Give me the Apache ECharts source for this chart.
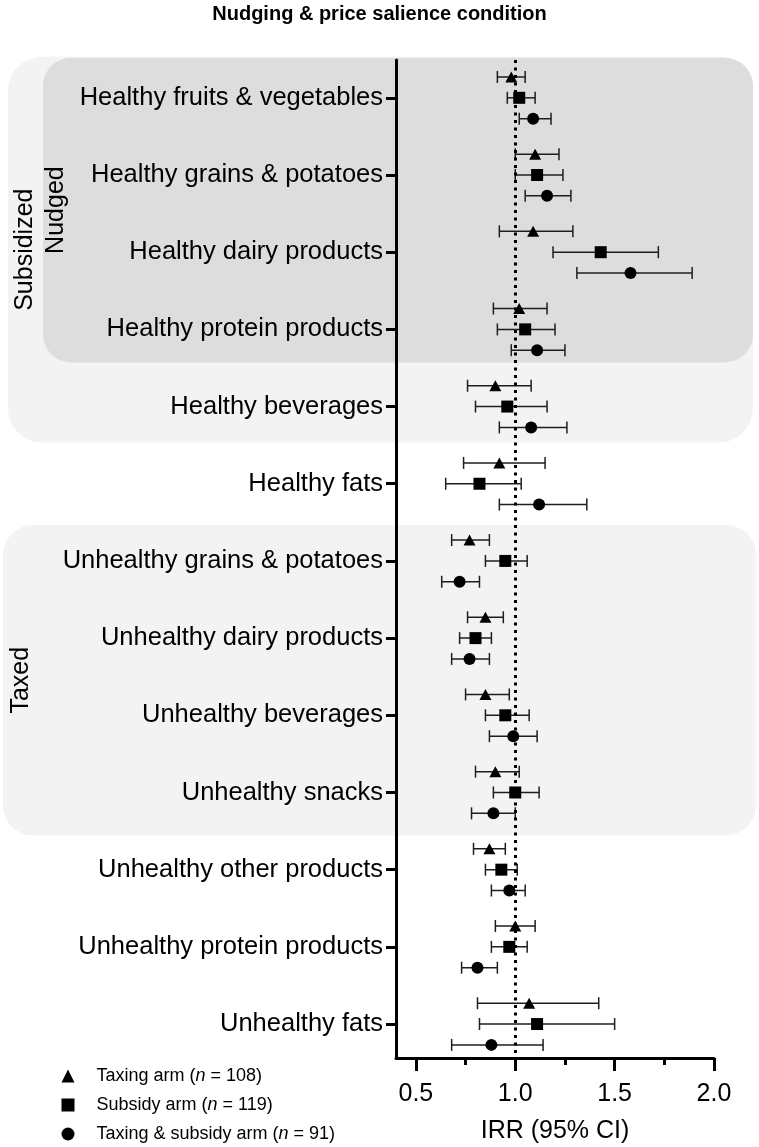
<!DOCTYPE html>
<html>
<head>
<meta charset="utf-8">
<script src="https://cdn.jsdelivr.net/npm/echarts@6/dist/echarts.min.js"></script>
<style>html,body{margin:0;padding:0;background:#fff}#c{width:759px;height:1147px}</style>
</head>
<body>
<div id="c"></div>
<script>
// ---------- data ----------
const categories = [
  'Healthy fruits & vegetables', 'Healthy grains & potatoes', 'Healthy dairy products',
  'Healthy protein products', 'Healthy beverages', 'Healthy fats',
  'Unhealthy grains & potatoes', 'Unhealthy dairy products', 'Unhealthy beverages',
  'Unhealthy snacks', 'Unhealthy other products', 'Unhealthy protein products', 'Unhealthy fats'
];
const armNames = ['Taxing arm', 'Subsidy arm', 'Taxing & subsidy arm'];
const armN = [108, 119, 91];

const taxEst = [0.98, 1.10, 1.09, 1.02, 0.90, 0.92, 0.77, 0.85, 0.85, 0.90, 0.87, 1.00, 1.07];
const taxLo  = [0.91, 1.00, 0.92, 0.89, 0.76, 0.74, 0.68, 0.76, 0.75, 0.80, 0.79, 0.90, 0.81];
const taxHi  = [1.05, 1.22, 1.29, 1.16, 1.08, 1.15, 0.87, 0.94, 0.97, 1.02, 0.95, 1.10, 1.42];

const subEst = [1.02, 1.11, 1.43, 1.05, 0.96, 0.82, 0.95, 0.80, 0.95, 1.00, 0.93, 0.97, 1.11];
const subLo  = [0.96, 1.00, 1.19, 0.91, 0.80, 0.65, 0.85, 0.72, 0.85, 0.89, 0.85, 0.88, 0.82];
const subHi  = [1.10, 1.24, 1.72, 1.20, 1.16, 1.03, 1.06, 0.88, 1.07, 1.12, 1.01, 1.06, 1.50];

const bothEst = [1.09, 1.16, 1.58, 1.11, 1.08, 1.12, 0.72, 0.77, 0.99, 0.89, 0.97, 0.81, 0.88];
const bothLo  = [1.02, 1.05, 1.31, 0.98, 0.92, 0.92, 0.63, 0.68, 0.87, 0.78, 0.88, 0.73, 0.68];
const bothHi  = [1.18, 1.28, 1.89, 1.25, 1.26, 1.36, 0.82, 0.87, 1.11, 1.00, 1.05, 0.91, 1.14];

const xTickLabels = [0.5, 1.0, 1.5, 2.0];
const xMinorTicks = [0.75, 1.25, 1.75];
const refValue = 1.0;

const regionNames = ['Subsidized', 'Nudged', 'Taxed'];
const regionFirst = [0, 0, 6];
const regionLast  = [4, 3, 9];

// ---------- chart ----------
const FONT = '"Liberation Sans", Arial, Helvetica, sans-serif';
const rows = categories.map((_, i) => i);
const seriesNames = armNames.map((n, k) => n + ' (n = ' + armN[k] + ')');
const arms = [
  { est: taxEst, lo: taxLo, hi: taxHi, symbol: 'triangle', size: [12, 11], off: -0.27 },
  { est: subEst, lo: subLo, hi: subHi, symbol: 'rect', size: 12, off: 0 },
  { est: bothEst, lo: bothLo, hi: bothHi, symbol: 'circle', size: 12, off: 0.27 }
];

function errRender(params, api) {
  const y = api.value(0), lo = api.value(1), hi = api.value(2);
  const p1 = api.coord([lo, y]), p2 = api.coord([hi, y]);
  const cap = 6;
  const st = { stroke: '#1e1e1e', lineWidth: 1.5 };
  return {
    type: 'group',
    children: [
      { type: 'line', shape: { x1: p1[0], y1: p1[1], x2: p2[0], y2: p2[1] }, style: st },
      { type: 'line', shape: { x1: p1[0], y1: p1[1] - cap, x2: p1[0], y2: p1[1] + cap }, style: st },
      { type: 'line', shape: { x1: p2[0], y1: p2[1] - cap, x2: p2[0], y2: p2[1] + cap }, style: st }
    ]
  };
}

const series = [];
arms.forEach((a, k) => {
  series.push({
    type: 'custom', name: 'ci' + k, renderItem: errRender, z: 2, silent: true,
    encode: { x: [1, 2], y: 0 },
    data: rows.map(i => [i + a.off, a.lo[i], a.hi[i]])
  });
});
arms.forEach((a, k) => {
  const s = {
    type: 'scatter', name: seriesNames[k], symbol: a.symbol, symbolSize: a.size, z: 4,
    itemStyle: { color: '#000', opacity: 1 },
    data: rows.map(i => [a.est[i], i + a.off])
  };
  if (k === 0) {
    s.markLine = {
      silent: true, symbol: ['none', 'none'], label: { show: false },
      lineStyle: { type: [3, 4.5], width: 3, color: '#000' },
      data: [{ xAxis: refValue }]
    };
  }
  series.push(s);
});

const chart = echarts.init(document.getElementById('c'), null, { renderer: 'canvas' });
const option = {
  animation: false,
  backgroundColor: '#fff',
  title: {
    text: 'Nudging & price salience condition', left: 'center', top: -1,
    textStyle: { fontFamily: FONT, fontSize: 20, fontWeight: 'bold', color: '#000' }
  },
  grid: { left: 396, top: 60, width: 318, height: 998, outerBoundsMode: 'none', containLabel: false },
  xAxis: [
    {
      type: 'value', min: 0.4, max: 2.0, position: 'bottom',
      name: 'IRR (95% CI)', nameLocation: 'middle', nameGap: 61,
      nameTextStyle: { fontFamily: FONT, fontSize: 25, color: '#000' },
      axisLine: { show: true, onZero: false, lineStyle: { color: '#000', width: 3 } },
      axisTick: { show: true, customValues: xTickLabels, length: 13, lineStyle: { color: '#000', width: 3 } },
      axisLabel: { customValues: xTickLabels, formatter: v => Number(v).toFixed(1), margin: 24,
        fontFamily: FONT, fontSize: 25, color: '#000' },
      splitLine: { show: false }
    },
    {
      type: 'value', min: 0.4, max: 2.0, position: 'bottom',
      axisLine: { show: false, onZero: false },
      axisTick: { show: true, customValues: xMinorTicks, length: 7, lineStyle: { color: '#000', width: 3 } },
      axisLabel: { show: false },
      splitLine: { show: false }
    }
  ],
  yAxis: {
    type: 'value', inverse: true, min: -0.49, max: 12.44,
    axisLine: { show: true, onZero: false, lineStyle: { color: '#000', width: 3 } },
    axisTick: { show: true, customValues: rows, length: 10, lineStyle: { color: '#000', width: 3 } },
    axisLabel: { customValues: rows, formatter: v => categories[Math.round(v)], margin: 13,
      fontFamily: FONT, fontSize: 25.5, color: '#000' },
    splitLine: { show: false }
  },
  legend: {
    data: seriesNames, orient: 'vertical', left: 61.5, top: 1067, padding: 0,
    itemWidth: 13, itemHeight: 13, itemGap: 11, selectedMode: false,
    formatter: name => {
      const k = seriesNames.indexOf(name);
      return '{t|' + armNames[k] + ' (}{i|n}{t| = ' + armN[k] + ')}';
    },
    textStyle: {
      fontFamily: FONT, fontSize: 18, color: '#000', padding: [0, 0, 0, 17],
      rich: {
        t: { fontFamily: FONT, fontSize: 18, color: '#000', lineHeight: 20 },
        i: { fontFamily: FONT, fontSize: 18, color: '#000', fontStyle: 'italic', lineHeight: 20 }
      }
    }
  },
  series: series
};
chart.setOption(option);

// background regions (computed from the y axis scale)
const regionStyle = [
  { left: 8, right: 753, padTop: 41, padBot: 36, fill: '#f3f3f3', r: 34, labelX: 25 },
  { left: 43, right: 753, padTop: 40, padBot: 33, fill: '#dddddd', r: 28, labelX: 56 },
  { left: 3, right: 756, padTop: 36, padBot: 43, fill: '#f3f3f3', r: 30, labelX: 21 }
];
const graphics = [];
regionNames.forEach((nm, k) => {
  const st = regionStyle[k];
  const yTop = chart.convertToPixel({ yAxisIndex: 0 }, regionFirst[k]) - st.padTop;
  const yBot = chart.convertToPixel({ yAxisIndex: 0 }, regionLast[k]) + st.padBot;
  graphics.push({
    type: 'rect', z: -10 + k, silent: true,
    shape: { x: st.left, y: yTop, width: st.right - st.left, height: yBot - yTop, r: st.r },
    style: { fill: st.fill }
  });
  graphics.push({
    type: 'text', z: 0, silent: true, x: st.labelX, y: (yTop + yBot) / 2, rotation: Math.PI / 2,
    style: { text: nm, fontFamily: FONT, fontSize: 25, fill: '#000', align: 'center', verticalAlign: 'middle' }
  });
});
chart.setOption({ graphic: graphics });
</script>
</body>
</html>
